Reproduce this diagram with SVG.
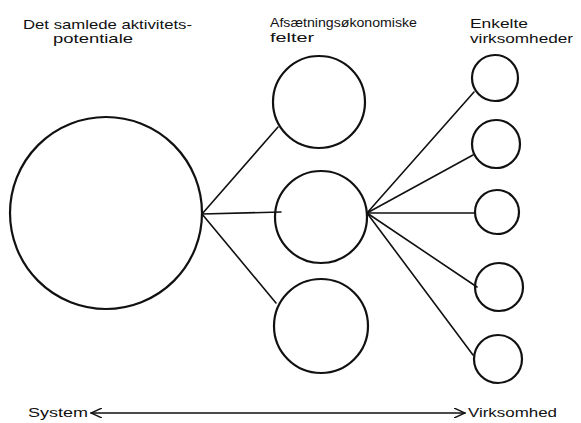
<svg xmlns="http://www.w3.org/2000/svg" width="581" height="423" viewBox="0 0 581 423">
<style>
.node{fill:none;stroke:#111;stroke-width:2.2}
.conn{fill:none;stroke:#111;stroke-width:1.6;stroke-linecap:round}
.lbl{font-family:"Liberation Sans",Arial,sans-serif;font-size:13px;fill:#111}
</style>
<defs>
<marker id="ah" viewBox="0 0 12 10" refX="11" refY="5" markerWidth="12" markerHeight="10" markerUnits="userSpaceOnUse" orient="auto-start-reverse">
<path d="M0,0 L11,5 L0,10" fill="none" stroke="#111" stroke-width="1.4"/>
</marker>
</defs>
<rect width="581" height="423" fill="#fff"/>
<g id="labels">
<text class="lbl" x="23" y="29" textLength="169" lengthAdjust="spacingAndGlyphs">Det samlede aktivitets-</text>
<text class="lbl" x="53" y="43" textLength="80" lengthAdjust="spacingAndGlyphs">potentiale</text>
<text class="lbl" x="270" y="27" textLength="147" lengthAdjust="spacingAndGlyphs">Afsætningsøkonomiske</text>
<text class="lbl" x="270" y="42" textLength="44" lengthAdjust="spacingAndGlyphs">felter</text>
<text class="lbl" x="470" y="28" textLength="58" lengthAdjust="spacingAndGlyphs">Enkelte</text>
<text class="lbl" x="470" y="43" textLength="103" lengthAdjust="spacingAndGlyphs">virksomheder</text>
<text class="lbl" x="28" y="417" textLength="60" lengthAdjust="spacingAndGlyphs">System</text>
<text class="lbl" x="468" y="417" textLength="89" lengthAdjust="spacingAndGlyphs">Virksomhed</text>
</g>
<g id="connectors">
<line class="conn" x1="202" y1="214" x2="278" y2="127"/>
<line class="conn" x1="202" y1="214" x2="281" y2="212"/>
<line class="conn" x1="202" y1="214" x2="276" y2="303"/>
<line class="conn" x1="367" y1="213" x2="474" y2="92"/>
<line class="conn" x1="367" y1="213" x2="473" y2="155"/>
<line class="conn" x1="367" y1="213" x2="475" y2="213"/>
<line class="conn" x1="367" y1="213" x2="477" y2="287"/>
<line class="conn" x1="367" y1="213" x2="473" y2="355"/>
<line class="conn" x1="91" y1="413" x2="465" y2="413" marker-start="url(#ah)" marker-end="url(#ah)"/>
</g>
<g id="system"><circle class="node" cx="106" cy="213" r="96"/></g>
<g id="felt1"><circle class="node" cx="319" cy="102" r="46"/></g>
<g id="felt2"><circle class="node" cx="321" cy="217" r="46"/></g>
<g id="felt3"><circle class="node" cx="321" cy="326" r="47"/></g>
<g id="virk1"><circle class="node" cx="495" cy="78" r="23"/></g>
<g id="virk2"><circle class="node" cx="496" cy="144" r="24"/></g>
<g id="virk3"><circle class="node" cx="497" cy="212" r="22"/></g>
<g id="virk4"><circle class="node" cx="499" cy="287" r="24"/></g>
<g id="virk5"><circle class="node" cx="498" cy="359" r="24"/></g>
</svg>
